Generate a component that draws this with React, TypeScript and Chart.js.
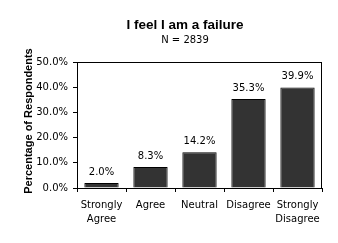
import React, { useEffect, useRef } from "react";
import { Chart, registerables } from "chart.js";
Chart.register(...registerables);

const categories = [["Strongly", "Agree"], "Agree", "Neutral", "Disagree", ["Strongly", "Disagree"]];
const values = [2.0, 8.3, 14.2, 35.3, 39.9];
const titleText = "I feel I am a failure";
const subtitleText = "N = 2839";
const yTitle = "Percentage of Respondents";

const FONT = "'DejaVu Sans', sans-serif";
const BFONT = "'Liberation Sans', Arial, sans-serif";

const decor = {
  id: "decor",
  afterDraw(chart: any) {
    const { ctx, chartArea } = chart;
    ctx.save();
    ctx.strokeStyle = "#000";
    ctx.lineWidth = 1;
    ctx.strokeRect(Math.round(chartArea.left) + 0.5, Math.round(chartArea.top) + 0.5,
      Math.round(chartArea.right - chartArea.left) - 1, Math.round(chartArea.bottom - chartArea.top));
    // data labels
    const meta = chart.getDatasetMeta(0);
    ctx.fillStyle = "#000";
    ctx.font = `10px ${FONT}`;
    ctx.textAlign = "center";
    ctx.textBaseline = "middle";
    meta.data.forEach((bar: any, i: number) => {
      ctx.fillText(values[i].toFixed(1) + "%", bar.x, bar.y - 11);
    });
    // titles
    ctx.font = `bold 13.5px ${BFONT}`;
    ctx.fillText(titleText, 185, 25);
    ctx.font = `10px ${FONT}`;
    ctx.fillText(subtitleText, 185, 40);
    ctx.translate(29, 121);
    ctx.rotate(-Math.PI / 2);
    ctx.font = `bold 11px ${BFONT}`;
    ctx.fillText(yTitle, 0, 0);
    ctx.restore();
  },
};

export default function App() {
  const ref = useRef<HTMLCanvasElement>(null);
  useEffect(() => {
    const chart = new Chart(ref.current!, {
      type: "bar",
      data: {
        labels: categories as any,
        datasets: [{
          data: values,
          backgroundColor: "#333333",
          borderColor: "#000000",
          borderWidth: 1,
          barPercentage: 0.7,
          categoryPercentage: 1,
        }],
      },
      options: {
        animation: false,
        responsive: false,
        layout: { padding: { top: 62, right: 16, left: 0, bottom: 0 } },
        plugins: { legend: { display: false }, tooltip: { enabled: false } },
        scales: {
          x: {
            grid: { display: true, drawOnChartArea: false, drawTicks: true, tickLength: 4, color: "#000", offset: true },
            border: { display: true, color: "#000" },
            ticks: { color: "#000", font: { family: FONT, size: 10, lineHeight: 1.4 }, padding: 6, maxRotation: 0, autoSkip: false },
            afterFit: (s: any) => { s.height = 55; },
          },
          y: {
            min: 0,
            max: 50,
            grid: { display: true, drawOnChartArea: false, drawTicks: true, tickLength: 4, color: "#000" },
            border: { display: true, color: "#000" },
            ticks: { stepSize: 10, color: "#000", font: { family: FONT, size: 10 }, padding: 5, callback: (v: any) => Number(v).toFixed(1) + "%" },
            afterFit: (s: any) => { s.width = 77; },
          },
        },
      },
      plugins: [decor],
    });
    return () => chart.destroy();
  }, []);
  return (
    <div style={{ position: "fixed", left: 0, top: 0, width: 338, height: 243, background: "#fff" }}>
      <canvas ref={ref} width={338} height={243} />
    </div>
  );
}
